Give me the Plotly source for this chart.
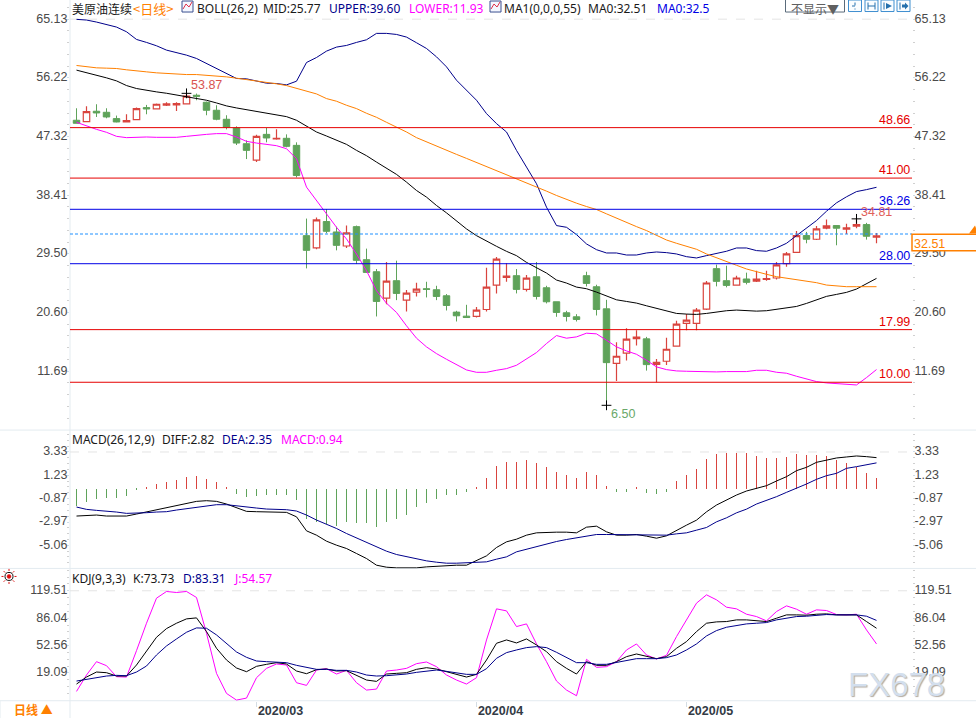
import numpy as np
import pandas as pd
import plotly.graph_objects as go

W, H = 976, 718
YK = 1.0025
dates = [d for d in pd.bdate_range("2020-02-05", periods=82).strftime("%Y-%m-%d").tolist() if d != "2020-04-10"]

opens = [49.78,49.57,51.15,50.99,50.03,49.52,49.88,51.70,51.5,52.06,52.11,52.26,53.58,52.51,51.30,49.93,48.61,46.22,43.74,47.64,46.94,47.04,45.97,
 32.26,30.39,34.4,32.82,30.69,33.63,28.61,26.78,22.78,25.42,22.47,23.69,24.2,24.05,23.13,20.65,20.04,19.99,21.05,24.76,25.92,26.18,24.1,26.02,24.35,22.22,20.55,19.94,
 26.18,24.5,21.15,12.88,14.41,16.64,16.59,12.73,13.19,15.48,18.93,18.93,21.11,27.25,25.42,24.76,25.68,25.37,25.62,25.83,28.01,29.73,32.27,31.71,33.39,33.79,33.23,33.69,33.94,32.02]
highs = [51.6,51.91,52.21,51.6,50.49,50.69,51.70,52.11,52.31,52.5,52.5,53.87,53.83,52.62,52.06,50.54,48.86,46.73,47.59,48.61,48.4,47.64,46.43,
 34.85,35.0,36.3,33.63,33.79,33.79,30.29,27.19,28.26,28.46,24.0,25.11,25.26,24.65,23.39,20.85,21.76,21.41,27.39,29.02,28.1,27.19,26.28,28.26,24.65,22.22,20.85,20.34,
 26.78,24.81,22.52,16.08,18.21,17.91,16.89,13.54,16.74,19.33,20.35,21.26,25.37,27.86,27.70,26.18,26.64,26.94,26.94,28.26,29.78,32.98,32.83,33.74,34.71,33.79,34.05,34.81,34.2,32.68]
lows = [49.32,49.57,50.28,50.08,49.47,49.52,49.88,50.69,51.4,51.96,51.2,52.26,52.82,50.54,49.78,48.4,46.02,43.89,43.43,46.43,46.83,45.67,41.1,
 27.29,30.18,32.62,30.03,30.39,27.95,26.68,19.99,21.86,22.47,20.75,23.03,22.88,22.47,20.9,19.23,19.83,19.83,20.75,23.49,25.26,23.49,23.79,22.57,21.97,19.94,19.23,19.23,
 24.55,20.14,6.50,10.2,13.29,15.57,11.77,9.99,12.63,15.48,17.91,17.91,20.96,24.56,24.41,24.71,24.86,25.22,25.42,25.62,27.55,29.73,31.1,31.61,33.23,30.8,32.52,33.39,31.66,31.1]
closes = [49.32,51.09,50.89,50.28,49.52,49.72,51.55,51.5,52.21,52.26,52.31,53.43,53.43,51.30,49.93,48.71,46.32,45.21,47.34,47.09,47.04,45.82,41.40,
 30.03,34.65,32.92,30.79,32.67,28.51,26.68,22.27,25.37,23.49,23.54,24.15,24.1,23.03,21.66,20.09,19.83,20.95,24.45,28.71,26.13,24.1,25.82,23.03,22.22,20.6,19.99,19.53,
 25.01,21.05,12.98,13.95,16.54,16.84,12.68,13.04,15.01,18.83,19.43,20.96,25.07,25.32,24.71,25.83,25.17,25.68,25.73,27.81,29.48,32.27,31.71,33.29,33.74,33.39,33.44,33.94,32.17,32.22]

boll_upper = [65.10,65.0,64.69,64.34,63.93,63.22,62.05,61.60,61.09,60.43,60.07,59.67,59.16,58.4,57.54,56.78,56.12,56.07,55.76,55.41,55.36,55.15,55.71,58.55,59.31,60.28,60.89,61.14,61.6,62.0,62.97,62.97,62.81,62.41,61.55,60.68,59.41,57.89,55.86,54.34,52.82,50.79,
 49.27,48.0,45.2,42.67,40.14,36.58,33.79,33.53,32.42,31.0,30.13,29.63,29.63,29.32,29.32,29.63,29.78,29.68,29.48,29.07,28.87,29.23,29.58,29.89,30.39,30.39,29.99,29.89,30.39,31.1,32.27,33.44,34.55,35.97,37.24,38.16,38.95,39.25,39.60]
boll_mid = [57.39,57.03,56.57,56.22,55.76,55.05,54.6,54.29,54.09,53.88,53.63,53.38,53.12,52.82,52.41,51.96,51.65,51.4,51.15,50.84,50.59,50.33,49.78,48.91,48.0,47.39,46.73,46.12,45.21,44.4,43.43,42.52,41.56,40.39,39.12,38.11,36.84,35.72,34.55,
 33.28,32.26,31.4,30.64,29.88,29.22,28.2,27.44,26.58,25.52,25.06,24.45,24.2,23.69,23.13,22.52,22.27,22.02,21.61,21.2,20.75,20.45,20.35,20.3,20.45,20.7,20.86,20.96,20.86,20.8,20.86,21.06,21.21,21.51,21.97,22.53,23.04,23.34,23.65,24.15,24.91,25.77]
boll_lower = [49.47,48.91,48.4,47.95,47.34,47.14,47.24,47.24,47.19,47.19,47.19,47.34,47.54,47.64,47.75,47.75,47.24,46.58,46.32,46.17,45.92,45.46,43.94,39.63,37.6,35.57,33.53,31.76,29.47,26.94,23.89,22.0,20.6,18.57,16.69,15.37,14.35,13.49,12.63,11.87,11.51,11.51,11.82,12.07,12.58,13.49,14.51,15.88,17.09,16.69,16.89,17.45,17.35,16.38,15.37,14.76,14.25,13.34,12.33,11.92,11.72,11.67,11.62,11.57,11.57,11.62,11.57,11.62,11.82,11.82,11.52,11.37,10.91,10.5,10.1,9.9,9.79,9.59,9.59,10.71,11.93]
ma55 = [58.1,57.89,57.74,57.69,57.64,57.44,57.33,57.13,56.98,56.88,56.78,56.72,56.72,56.62,56.52,56.37,56.17,55.97,55.71,55.46,55.31,55.05,54.6,54.24,53.78,53.07,52.67,52.06,51.55,50.84,50.23,49.47,48.76,48.0,47.14,46.48,45.87,45.21,44.6,43.99,43.38,42.77,
 42.17,41.56,40.9,40.34,39.73,39.02,38.36,37.75,37.19,36.68,36.23,35.57,34.9,34.29,33.63,33.03,32.37,31.6,31.1,30.65,30.19,29.48,28.87,28.31,27.76,27.2,26.74,26.39,26.03,25.83,25.62,25.42,25.12,24.76,24.61,24.51,24.51,24.51,24.51]

level_red = [48.66, 41.00, 17.99, 10.00]
level_blue = [36.26, 28.00]
last_price = 32.51
price_ticks = [65.13, 56.22, 47.32, 38.41, 29.50, 20.60, 11.69]

diff = [-2.43,-2.40,-2.34,-2.43,-2.43,-2.43,-2.25,-2.07,-1.83,-1.68,-1.53,-1.32,-1.11,-1.05,-1.11,-1.35,-1.71,-2.01,-2.04,-2.07,-2.07,-2.10,-2.50,-3.76,-4.15,-4.69,-5.05,-5.35,-5.80,-6.25,-6.85,-7.03,-7.09,-7.09,-7.09,-7.0,-6.94,-6.85,-6.85,-6.85,-6.40,-6.01,
 -5.26,-4.75,-4.51,-4.15,-3.94,-3.88,-3.88,-3.88,-3.94,-3.43,-3.34,-3.85,-4.15,-4.15,-4.09,-4.24,-4.42,-4.21,-3.7,-3.25,-2.8,-2.05,-1.44,-0.99,-0.54,-0.18,0.03,0.3,0.72,1.11,1.65,1.95,2.4,2.61,2.79,2.88,2.97,2.91,2.82]
dea = [-1.62,-1.83,-1.92,-1.98,-2.07,-2.19,-2.19,-2.13,-2.07,-2.04,-1.89,-1.77,-1.59,-1.53,-1.41,-1.41,-1.53,-1.62,-1.71,-1.80,-1.83,-1.86,-1.98,-2.34,-2.79,-3.16,-3.55,-4.0,-4.39,-4.75,-5.2,-5.59,-5.89,-6.1,-6.28,-6.46,-6.58,-6.67,-6.67,-6.64,-6.55,-6.55,
 -6.31,-6.1,-5.65,-5.41,-5.14,-4.9,-4.72,-4.54,-4.39,-4.24,-4.09,-4.09,-4.09,-4.09,-4.09,-4.15,-4.15,-4.15,-4.03,-3.94,-3.7,-3.46,-2.95,-2.59,-2.14,-1.81,-1.35,-1.05,-0.69,-0.3,0.06,0.45,0.87,1.2,1.41,1.86,2.01,2.16,2.35]
macd = [-1.5,-1.2,-.93,-.84,-.78,-.6,-.09,.21,.48,.66,.84,1.11,1.2,.93,.66,.21,-.42,-.75,-.66,-.57,-.51,-.51,-1.02,-2.73,-3.0,-3.18,-3.36,-3.0,-3.09,-3.09,-3.45,-3.0,-2.73,-2.31,-1.65,-1.23,-.87,-.57,-.51,-.24,.21,1.02,
 2.1,2.46,2.46,2.64,2.37,2.01,1.56,1.29,1.02,1.56,1.26,.3,-.3,-.24,.12,-.33,-.42,-.24,.75,1.29,1.83,2.73,3.18,3.27,3.27,3.27,3.0,2.82,2.82,2.91,3.18,3.09,3.09,3.0,2.64,2.37,2.01,1.47,.94]
macd_ticks = [3.33, 1.23, -0.87, -2.97, -5.06]

k_line = [5.54,14.11,20.24,19.42,15.34,15.34,28.81,45.15,62.71,73.32,79.86,85.16,86.39,69.65,49.23,34.94,25.14,20.65,27.18,29.63,31.67,30.04,21.46,18.19,23.1,23.91,21.46,21.87,15.75,10.44,8.81,17.79,18.6,19.42,23.5,25.55,23.91,20.65,17.38,14.11,17.38,34.94,
 55.36,59.44,55.76,60.66,53.31,45.15,32.9,24.73,17.79,32.9,28.4,28.4,32.9,39.02,42.29,39.02,36.57,39.02,49.23,57.4,69.65,79.86,81.49,81.9,83.94,83.94,82.71,81.9,85.98,90.06,90.06,89.65,90.88,91.29,90.06,90.06,90.06,81.9,73.73]
d_line = [9.22,11.26,13.3,15.34,16.16,15.75,20.24,27.59,41.06,52.09,60.66,68.83,74.14,73.73,65.56,55.36,44.74,38.2,33.71,32.9,32.08,31.67,28.4,25.55,23.5,23.5,22.28,22.28,20.24,16.56,15.34,15.75,16.56,17.79,19.83,21.46,22.69,21.05,19.42,17.38,17.38,24.32,
 36.98,43.92,47.19,50.05,51.27,50.05,44.33,37.8,31.67,31.67,29.63,29.63,31.67,33.71,36.57,36.57,36.57,37.8,41.06,47.19,54.54,64.34,70.87,74.95,76.99,79.04,79.86,80.67,83.94,85.98,88.02,88.43,89.65,90.47,90.06,90.06,90.06,88.43,83.31]
j_line = [-3.45,16.56,32.9,28.0,14.52,14.11,46.37,79.86,110.48,118.65,117.42,118.65,111.29,67.6,18.6,-5.9,-14.06,-11.6,13.3,24.73,30.04,28.81,7.17,3.91,22.69,24.32,17.79,22.28,7.17,-1.81,-0.59,21.46,22.69,24.73,30.45,32.49,26.77,16.56,10.44,5.54,13.3,59.44,
 97.41,94.96,75.77,79.04,54.54,32.9,9.22,-1.81,-8.75,35.75,25.96,26.77,32.9,47.19,54.54,41.06,36.16,40.65,63.52,83.94,104.36,114.56,108.44,99.45,97.41,90.88,88.02,82.71,94.15,101.09,97,90.88,96.19,95.37,90.47,90.06,90.88,71.69,54.57]
kdj_ticks = [119.51, 86.04, 52.56, 19.09]

month_ticks = ["2020-03-02", "2020-04-01", "2020-05-01"]
month_text = ["2020/03", "2020/04", "2020/05"]

RED, GREEN = "#d9443e", "#5fa35a"
NAVY, MAG, ORANGE, BLUE = "#00008b", "#ff00ff", "#ff8000", "#0000e6"
AXC, TXT = "#e3ebf0", "#4a4a4a"
CN = "Noto Sans CJK SC"
LAT = "Liberation Sans"

def px(x): return x / W
def py(y): return 1 - y * YK / H

fig = go.Figure()
fig.add_trace(go.Candlestick(x=dates, open=opens, high=highs, low=lows, close=closes, whiskerwidth=0,
    increasing=dict(line=dict(color=RED, width=1.2), fillcolor="white"),
    decreasing=dict(line=dict(color=GREEN, width=1), fillcolor=GREEN),
    xaxis="x", yaxis="y", hoverinfo="skip"))
for s, c in [(boll_mid, "#000000"), (boll_lower, MAG), (boll_upper, NAVY)]:
    fig.add_trace(go.Scatter(x=dates, y=s, mode="lines", line=dict(color=c, width=1), xaxis="x", yaxis="y", hoverinfo="skip"))
fig.add_trace(go.Scatter(x=dates, y=ma55, mode="lines", line=dict(color=ORANGE, width=1), xaxis="x", yaxis="y4", hoverinfo="skip"))
ext_x = [dates[11], dates[78], dates[53]]
ext_y = [max(highs), highs[78], min(lows)]
fig.add_trace(go.Scatter(x=ext_x, y=ext_y, mode="markers", marker=dict(symbol="cross-thin", size=7, line=dict(color="black", width=1)), xaxis="x", yaxis="y", hoverinfo="skip"))

fig.add_trace(go.Bar(x=dates, y=macd, width=0.09, marker=dict(color=[RED if v >= 0 else GREEN for v in macd], line=dict(width=0)), xaxis="x2", yaxis="y2", hoverinfo="skip"))
fig.add_trace(go.Scatter(x=dates, y=diff, mode="lines", line=dict(color="#000000", width=1), xaxis="x2", yaxis="y2", hoverinfo="skip"))
fig.add_trace(go.Scatter(x=dates, y=dea, mode="lines", line=dict(color=NAVY, width=1), xaxis="x2", yaxis="y5", hoverinfo="skip"))

fig.add_trace(go.Scatter(x=dates, y=j_line, mode="lines", line=dict(color=MAG, width=1), xaxis="x3", yaxis="y3", hoverinfo="skip"))
fig.add_trace(go.Scatter(x=dates, y=k_line, mode="lines", line=dict(color="#000000", width=1), xaxis="x3", yaxis="y3", hoverinfo="skip"))
fig.add_trace(go.Scatter(x=dates, y=d_line, mode="lines", line=dict(color=NAVY, width=1), xaxis="x3", yaxis="y6", hoverinfo="skip"))

xr = [-0.65, 83.55]
xdom = [px(70), px(912)]
common_x = dict(type="category", categoryorder="array", categoryarray=dates, range=xr, domain=xdom, showgrid=False, zeroline=False, showline=False, showticklabels=False, ticks="", rangeslider=dict(visible=False))

def minors(t, n):
    t = sorted(t)
    step = (t[-1] - t[0]) / (len(t) - 1)
    vals = []
    v = t[0] - 3 * step
    while v < t[-1] + 3 * step:
        vals.extend(v + step * j / n for j in range(1, n))
        v += step
    return vals

def yax(dom, rng, ticks, n, side="left", **kw):
    return dict(domain=dom, range=rng, side=side, tickvals=ticks, ticktext=[f"{t:.2f}" for t in ticks],
        showgrid=False, zeroline=False, showline=False, ticks="outside", ticklen=2, tickcolor="#cfdde8", tickwidth=1,
        ticklabelstandoff=-3, ticklabelshift=-1,
        tickfont=dict(family=LAT, size=12.5, color=TXT),
        minor=dict(tickvals=minors(ticks, n), ticks="outside", ticklen=2, tickcolor="#d0d0d0", tickwidth=1), **kw)

d1, r1 = [py(429), 1], [2.74, 68.04]
d2, r2 = [py(567), py(429)], [-7.14, 5.30]
d3, r3 = [py(699), py(567.7)], [-14.86, 145.97]

fig.update_layout(
    width=W, height=H, margin=dict(l=0, r=0, t=0, b=0), showlegend=False,
    paper_bgcolor="white", plot_bgcolor="white", bargap=0, boxgap=0.08, hovermode=False,
    xaxis=dict(common_x, anchor="y"),
    xaxis2=dict(common_x, anchor="y2"),
    xaxis3=dict(common_x, anchor="y3", tickmode="array", tickvals=month_ticks, ticktext=month_text, showticklabels=True,
                ticks="outside", ticklen=5, tickcolor="#d5dde3", ticklabelshift=24, ticklabelstandoff=-7,
                tickfont=dict(family=LAT, size=12.5, color="#333a45", weight="bold")),
    yaxis=yax(d1, r1, price_ticks, 5, anchor="x"),
    yaxis2=yax(d2, r2, macd_ticks, 4, anchor="x2"),
    yaxis3=yax(d3, r3, kdj_ticks, 4, anchor="x3"),
    yaxis4=yax(d1, r1, price_ticks, 5, side="right", overlaying="y", anchor="x"),
    yaxis5=yax(d2, r2, macd_ticks, 4, side="right", overlaying="y2", anchor="x2"),
    yaxis6=yax(d3, r3, kdj_ticks, 4, side="right", overlaying="y3", anchor="x3"),
)

shapes = []
def pline(x0, y0, x1, y1, color, width=1, dash=None, layer="above"):
    shapes.append(dict(type="line", xref="paper", yref="paper", x0=px(x0), x1=px(x1), y0=py(y0), y1=py(y1), layer=layer,
                       line=dict(color=color, width=width, dash=dash or "solid")))
def prect(x0, y0, x1, y1, color, fill=None, width=1):
    shapes.append(dict(type="rect", xref="paper", yref="paper", x0=px(x0), x1=px(x1), y0=py(y0), y1=py(y1), layer="above",
                       line=dict(color=color, width=width), fillcolor=fill or "rgba(0,0,0,0)"))
def ppoly(points, line=None, fill=None, close=False):
    p = "M " + " L ".join(f"{px(x)} {py(y)}" for x, y in points) + (" Z" if close else "")
    shapes.append(dict(type="path", xref="paper", yref="paper", layer="above", path=p,
                       line=dict(color=line or "rgba(0,0,0,0)", width=1), fillcolor=fill or "rgba(0,0,0,0)"))

for yy in (429, 567, 699):
    pline(0, yy, W, yy, AXC, 1, layer="below")
pline(70, 0, 70, H, AXC, 1, layer="below")
pline(0, 699, 0, H, AXC, 1, layer="below")
for ref, v in (("y", price_ticks[0]), ("y2", macd_ticks[0]), ("y3", kdj_ticks[0])):
    shapes.append(dict(type="line", xref="paper", x0=px(70), x1=px(912), yref=ref, y0=v, y1=v, layer="below",
                       line=dict(color="#e4e4e4", width=1, dash="dash")))
for v in level_red:
    shapes.append(dict(type="line", xref="paper", x0=px(70), x1=px(912), yref="y", y0=v, y1=v, layer="above", line=dict(color="#e60000", width=1)))
for v in level_blue:
    shapes.append(dict(type="line", xref="paper", x0=px(70), x1=px(912), yref="y", y0=v, y1=v, layer="above", line=dict(color=BLUE, width=1)))
shapes.append(dict(type="line", xref="paper", x0=px(70), x1=px(912), yref="y", y0=last_price, y1=last_price, layer="above", line=dict(color="#1e90ff", width=1, dash="3px,2px")))
prect(912, 233.7, 982, 250.1, ORANGE, "white", 1.5)
ppoly([(969, 233), (975, 225), (978, 233)], fill=ORANGE, close=True)

def icon(x, y):
    prect(x, y, x + 11, y + 11, "#3b4f8f", "#f4f7ff", 1)
    ppoly([(x + 1, y + 8), (x + 4, y + 3), (x + 7, y + 6), (x + 10, y + 1)], line="#e0304a")
icon(182, 1)
icon(490, 1)
prect(785.5, -2, 844.5, 12, "#5a6b7b", "white", 1)
TB, TG = "#3f8fd0", "#2470ad"
for bx in (848.5, 865, 881, 897):
    prect(bx, 0, bx + 13, 11.5, TB, "#fafdff", 1)
# toolbar glyphs
pline(852, 6, 858, 6, TG, 1, dash="dot"); pline(855, 2.5, 855, 9.5, TG, 1, dash="dot")
pline(868, 2.5, 868, 9.5, TG, 1); pline(875, 2.5, 875, 9.5, TG, 1); pline(868, 6, 875, 6, TG, 1)
pline(884, 2.5, 884, 9.5, TG, 1); ppoly([(886, 3), (892, 6), (886, 9)], fill=TG, close=True)
pline(900, 2.5, 900, 9.5, TG, 1); ppoly([(902, 4.5), (905, 4.5), (905, 2.5), (908.5, 6), (905, 9.5), (905, 7.5), (902, 7.5)], fill=TG, close=True)
# sun icon
shapes.append(dict(type="circle", xref="paper", yref="paper", x0=px(5), x1=px(13), y0=py(579), y1=py(571), layer="above", fillcolor="white", line=dict(color="#111", width=1)))
shapes.append(dict(type="circle", xref="paper", yref="paper", x0=px(7), x1=px(11), y0=py(577), y1=py(573), layer="above", fillcolor="#e01010", line=dict(color="#e01010", width=0.5)))
for a in np.arange(0, 2 * np.pi, np.pi / 4):
    pline(9 + 5.5 * np.cos(a), 575 + 5.5 * np.sin(a), 9 + 7.5 * np.cos(a), 575 + 7.5 * np.sin(a), "#e01010", 1)
fig.update_layout(shapes=shapes)

ann = []
def text(x, y, s, color="#1a1a1a", size=12.5, family=CN, anchor="left", shadow=None, **kw):
    f = dict(family=family, size=size, color=color)
    if shadow:
        f["shadow"] = shadow
    ann.append(dict(xref="paper", yref="paper", x=px(x), y=py(y), text=s, showarrow=False, xanchor=anchor, yanchor="middle",
                    font=f, borderpad=0, borderwidth=0, **kw))

HF = "Noto Sans"
text(72, 8, "美原油连续", "#1a1a1a", 12)
text(133, 8, "&lt;日线&gt;", ORANGE, 13)
text(197, 8, "BOLL(26,2)", "#1a1a1a", 12, HF)
text(263, 8, "MID:25.77", "#1a1a1a", 12, HF)
text(329, 8, "UPPER:39.60", NAVY, 12, HF)
text(409, 8, "LOWER:11.93", MAG, 12, HF)
text(504, 8, "MA1(0,0,0,55)", "#1a1a1a", 12, HF)
text(588, 8, "MA0:32.51", "#1a1a1a", 12, HF)
text(657, 8, "MA0:32.5", BLUE, 12, HF)
text(791, 8, "不显示▼", "#606060", 12)

text(72, 438.5, "MACD(26,12,9)", "#1a1a1a", 12, HF)
text(162, 438.5, "DIFF:2.82", "#1a1a1a", 12, HF)
text(222, 438.5, "DEA:2.35", NAVY, 12, HF)
text(281, 438.5, "MACD:0.94", MAG, 12, HF)

text(72, 577.4, "KDJ(9,3,3)", "#1a1a1a", 12, HF)
text(133, 577.4, "K:73.73", "#1a1a1a", 12, HF)
text(183, 577.4, "D:83.31", NAVY, 12, HF)
text(234, 577.4, "J:54.57", MAG, 12, HF)

text(14, 707.3, "<b>日线 ▲</b>", ORANGE, 12)

for v in level_red + level_blue:
    ann.append(dict(xref="paper", yref="y", x=px(911), y=v, text=f"{v:.2f}", showarrow=False, xanchor="right", yanchor="bottom",
                    font=dict(family=LAT, size=12.5, color="#e60000" if v in level_red else BLUE), borderpad=0))
text(191, 85, "53.87", "#d9534f", 12.5, LAT)
text(861, 211.5, "34.81", "#e0605a", 12.5, LAT)
text(611, 413, "6.50", "#6aa86a", 12.5, LAT)
text(914, 243.6, f"{last_price:.2f}", ORANGE, 12.5, LAT)
text(848, 682.5, "FX678", "#d3dfee", 33, LAT, shadow="1px 1px 1px #b3aba2")

fig.update_layout(annotations=ann)
post = ("document.documentElement.style.height='718px';document.body.style.height='718px';"
        "document.body.style.margin='0';document.body.style.overflow='hidden';document.documentElement.style.overflow='hidden';"
        "document.body.firstElementChild.style.height='718px';")
fig.write_html("out.html", config=dict(displayModeBar=False), post_script=post)
